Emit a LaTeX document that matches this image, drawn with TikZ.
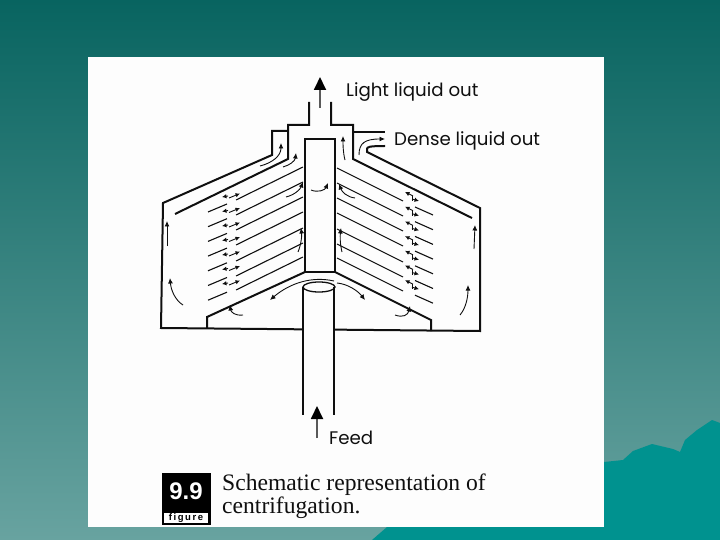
\documentclass[tikz,border=0pt]{standalone}
\usepackage{fontspec}
\setmainfont{Liberation Serif}
\newfontfamily\labelfont{Poppins}
\newfontfamily\badgefont{Liberation Sans}
\usetikzlibrary{arrows.meta,positioning}
\definecolor{slidetop}{RGB}{8,100,96}
\definecolor{slidebot}{RGB}{104,163,160}
\definecolor{ridge}{RGB}{0,146,143}
\definecolor{panel}{RGB}{253,253,253}
\definecolor{ink}{RGB}{15,15,15}

\begin{document}
\begin{tikzpicture}[x=1pt,y=-1pt,
    wall/.style={draw=ink,line width=2pt,line join=miter},
    tube/.style={draw=ink,line width=1.3pt},
    disc/.style={draw=ink,line width=1.1pt},
    flow/.style={draw=ink,line width=0.9pt,-{Latex[length=5.5pt,width=5pt]}},
    tiny/.style={draw=ink,line width=0.9pt,-{Latex[length=4.5pt,width=4.5pt]}},
    bigarr/.style={draw=black!65,line width=1.8pt,-{Triangle[length=13pt,width=12pt,color=black]}},
    tag/.style={font=\labelfont\fontsize{18.2}{21}\selectfont,text=ink,inner sep=0pt,anchor=west},
    caption/.style={font=\fontsize{23.6}{26}\selectfont,text=ink,inner sep=0pt,anchor=west}]
   \useasboundingbox (0,0) rectangle (720,540);
   \shade[top color=slidetop,bottom color=slidebot] (0,0) rectangle (720,540);
   \fill[ridge] (372,540)--(387,527)--(604,527)--(604,462)--(623,460)--(633,451)--(652,444)--(673,449)--(680,452)--(685,440)--(697,430)--(712,420)--(720,423)--(720,540)--cycle;
   \fill[panel] (88,57) rectangle (604,527);

   % vessel
   \draw[wall] (309,102)--(309,125)--(288,125)--(288,159)--(175,214);
   \draw[wall] (331,102)--(331,125)--(353,125)--(353,159)--(472,218);
   \draw[wall] (288,131)--(272,131)--(272,155)--(163,203)--(161,328)--(480,331)--(480,208)--(367,152)--(367,149)
      .. controls (367,147) and (369,146) .. (385,146);
   \draw[wall] (353,132)--(385,132);
   \draw[wall] (305,272)--(305,139)--(335,139)--(335,272)--cycle;
   \draw[wall] (305,272)--(207,317)--(207,328);
   \draw[wall] (335,272)--(431,320)--(431,331);

   % feed pipe
   \fill[panel] (303,287) rectangle (334,332);
   \draw[tube] (303,287)--(303,415);
   \draw[tube] (334,287)--(334,415);
   \draw[tube] (319,287) ellipse (16 and 5);

   % discs
   \foreach \k/\yl/\yr in {0/167/168,1/182/183,2/197/198,3/212/213,4/228/229,5/243/244,6/257/258}{
      \draw[disc] (236,\yl+33)--(303,\yl);
      \draw[disc] (208,212+14.7*\k)--(227,204+14.7*\k);
      \draw[disc] (337,\yr)--(403,\yr+33);
      \draw[disc] (415,207+14.7*\k)--(433,215+14.7*\k);
      \draw[tiny] (229,198+14.5*\k)--(240,193.5+14.5*\k);
      \draw[tiny] (228,196+14.5*\k)--(222,197+14.5*\k);
      \draw[tiny] (413,196+14.7*\k)--(405,192+14.7*\k);
      \draw[tiny] (412,199+14.7*\k)--(419,201+14.7*\k);
      \draw[draw=ink,line width=0.6pt] (412,196+14.7*\k)--(412,201+14.7*\k);
   }

   % flow inside the bowl
   \draw[flow] (260,166) .. controls (272,163) and (281,156) .. (281,143);
   \draw[flow] (283,167) .. controls (290,165) and (295,161) .. (296,153);
   \draw[flow] (286,197) .. controls (294,195) and (300,190) .. (303,182);
   \draw[flow] (311,190) .. controls (318,193) and (325,190) .. (328,183);
   \draw[flow] (345,160) .. controls (343,152) and (343,145) .. (343,136);
   \draw[flow] (359,155) .. controls (359,143) and (365,139) .. (385,139);
   \draw[flow] (355,198) .. controls (347,197) and (342,192) .. (339,184);
   \draw[flow] (298,252) .. controls (301,245) and (302,236) .. (301,228);
   \draw[flow] (167,246)--(167,221);
   \draw[flow] (183,305) .. controls (175,300) and (171,290) .. (170,278);
   \draw[flow] (334,281) .. controls (312,276) and (290,283) .. (270,300);
   \draw[flow] (243,315) .. controls (235,316) and (231,312) .. (230,305);
   \draw[flow] (342,252) .. controls (340,244) and (340,236) .. (341,228);
   \draw[flow] (474,249)--(475,225);
   \draw[flow] (460,315) .. controls (466,308) and (468,297) .. (468,285);
   \draw[flow] (337,283) .. controls (348,284) and (358,291) .. (365,300);
   \draw[flow] (395,315) .. controls (403,318) and (408,315) .. (410,306);

   % in and out
   \node[tag] (light) at (346,92) {Light liquid out};
   \node[tag] (dense) at (394,141) {Dense liquid out};
   \node[tag] (feed) at (329,438) {Feed};
   \coordinate (lightin) at (320,108);
   \coordinate (lighttip) at (320,77);
   \coordinate (feedin) at (317,438);
   \coordinate (feedtip) at (317,406);
   \draw[bigarr] (lightin)--(lighttip);
   \draw[bigarr] (feedin)--(feedtip);

   % figure badge
   \node[fill=black,minimum width=49pt,minimum height=52pt,inner sep=0pt] (badge) at (186.5,499) {};
   \node[font=\badgefont\bfseries\fontsize{24}{26}\selectfont,text=white,inner sep=0pt] (number) at (186,491) {9.9};
   \node[fill=white,minimum width=44pt,minimum height=10pt,inner sep=0pt,font=\badgefont\bfseries\fontsize{9.5}{10}\selectfont,text=black] (figword) at (186,518) {f\,i\,g\,u\,r\,e};
   \node[caption] (capa) at (222,485) {Schematic representation of};
   \node[caption] (capb) at (222,508) {centrifugation.};
\end{tikzpicture}
\end{document}
